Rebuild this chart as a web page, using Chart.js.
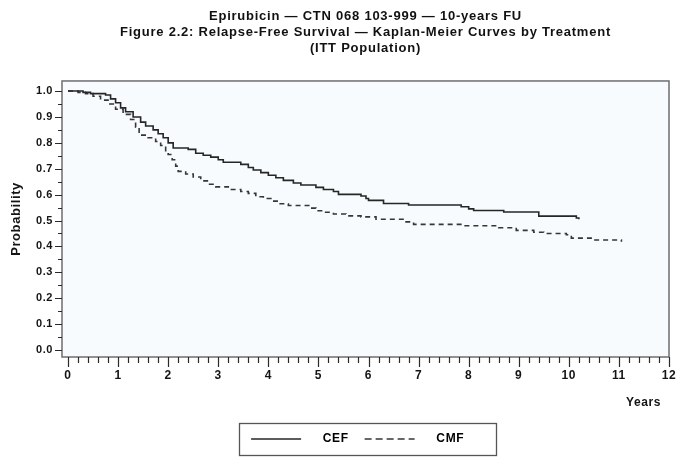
<!DOCTYPE html>
<html>
<head>
<meta charset="utf-8">
<script src="https://cdn.jsdelivr.net/npm/chart.js@4/dist/chart.umd.min.js"></script>
<style>
  html, body { margin: 0; padding: 0; background: #ffffff; }
  #wrap { width: 692px; height: 467px; }
</style>
</head>
<body>
<div id="wrap"><canvas id="c" width="692" height="467"></canvas></div>
<script>
// ---- Data ----
const titleLines = [
  "Epirubicin \u2014 CTN 068 103-999 \u2014 10-years FU",
  "Figure 2.2: Relapse-Free Survival \u2014 Kaplan-Meier Curves by Treatment",
  "(ITT Population)"
];
const seriesNames = ["CEF", "CMF"];

const cefYears = [0, 0.3, 0.45, 0.75, 0.85, 0.95, 1.05, 1.15, 1.3, 1.45, 1.55, 1.7, 1.8, 1.9, 2.0, 2.1,
  2.4, 2.55, 2.7, 2.85, 3.0, 3.1, 3.45, 3.6, 3.7, 3.85, 4.0, 4.15, 4.3, 4.5, 4.65, 4.95, 5.1, 5.3, 5.4,
  5.85, 5.95, 6.0, 6.3, 6.8, 7.85, 8.0, 8.1, 8.7, 9.4, 10.15, 10.2];
const cefSurv = [1.0, 0.995, 0.99, 0.985, 0.97, 0.955, 0.935, 0.92, 0.90, 0.88, 0.865, 0.85, 0.835, 0.82, 0.80, 0.78,
  0.775, 0.76, 0.752, 0.745, 0.735, 0.725, 0.717, 0.705, 0.695, 0.685, 0.675, 0.665, 0.655, 0.645, 0.637, 0.628, 0.62, 0.612, 0.601,
  0.595, 0.585, 0.578, 0.566, 0.56, 0.553, 0.545, 0.539, 0.533, 0.517, 0.51, 0.505];

const cmfYears = [0, 0.2, 0.35, 0.5, 0.65, 0.8, 0.95, 1.1, 1.25, 1.35, 1.42, 1.6, 1.75, 1.85, 1.95, 2.0, 2.08,
  2.15, 2.2, 2.35, 2.5, 2.65, 2.8, 2.95, 3.2, 3.45, 3.6, 3.75, 3.9, 4.05, 4.2, 4.4, 4.85, 4.95, 5.1, 5.3,
  5.55, 5.85, 6.15, 6.75, 6.9, 7.9, 8.6, 8.95, 9.3, 9.5, 9.95, 10.05, 10.5, 11.05];
const cmfSurv = [1.0, 0.995, 0.99, 0.98, 0.965, 0.95, 0.93, 0.91, 0.89, 0.86, 0.83, 0.82, 0.805, 0.79, 0.77, 0.755, 0.735,
  0.71, 0.69, 0.68, 0.668, 0.653, 0.64, 0.63, 0.62, 0.612, 0.605, 0.592, 0.585, 0.575, 0.565, 0.558, 0.548, 0.538, 0.532, 0.525,
  0.518, 0.514, 0.505, 0.495, 0.485, 0.48, 0.472, 0.462, 0.455, 0.45, 0.445, 0.432, 0.425, 0.418];

const xTickValues = [];
for (let i = 0; i <= 60; i++) xTickValues.push(Math.round(i * 2) / 10);     // 0 .. 12 every 0.2
const yTickValues = [];
for (let i = 0; i <= 20; i++) yTickValues.push(Math.round(i * 5) / 100);    // 0 .. 1 every 0.05
const xTickLabels = ["0","1","2","3","4","5","6","7","8","9","10","11","12"];
const yTickLabels = ["0.0","0.1","0.2","0.3","0.4","0.5","0.6","0.7","0.8","0.9","1.0"];

const toPoints = (xs, ys) => xs.map((x, i) => ({ x: x, y: ys[i] }));

const FONT = "'Liberation Sans', Arial, sans-serif";
Chart.defaults.font.family = FONT;
Chart.defaults.font.weight = 'bold';
Chart.defaults.color = '#141414';

const spacing = {
  id: 'spacing',
  beforeUpdate(chart) {
    chart.ctx.letterSpacing = '0.6px';
    const tb = chart.titleBlock;
    if (tb && !tb._wrapped) {
      const orig = tb.draw;
      tb.draw = function () {
        const ctx = chart.ctx;
        const prev = ctx.letterSpacing;
        ctx.letterSpacing = '0.76px';
        orig.apply(this, arguments);
        ctx.letterSpacing = prev;
      };
      tb._wrapped = true;
    }
  },
  beforeDraw(chart) { chart.ctx.letterSpacing = '0.6px'; }
};

const frame = {
  id: 'frame',
  beforeDraw(chart) {
    const { ctx, chartArea: a } = chart;
    ctx.save();
    ctx.fillStyle = '#f7fbfd';
    ctx.fillRect(a.left, a.top, a.right - a.left, a.bottom - a.top);
    ctx.restore();
  },
  afterDraw(chart) {
    const { ctx, chartArea: a } = chart;
    const xs = chart.scales.x, ys = chart.scales.y;
    ctx.save();
    ctx.strokeStyle = '#6e6e6e';
    ctx.lineWidth = 1.5;
    ctx.strokeRect(a.left, a.top, a.right - a.left, a.bottom - a.top);
    ctx.strokeStyle = '#2a2a2a';
    ctx.lineWidth = 1.2;
    ctx.beginPath();
    xTickValues.forEach(v => {
      const px = Math.round(xs.getPixelForValue(v)) + 0.5;
      const major = Math.abs(v - Math.round(v)) < 1e-6;
      ctx.moveTo(px, a.bottom);
      ctx.lineTo(px, a.bottom + (major ? 10 : 6));
    });
    yTickValues.forEach(v => {
      const py = Math.round(ys.getPixelForValue(v)) + 0.5;
      const major = Math.abs(v * 10 - Math.round(v * 10)) < 1e-6;
      ctx.moveTo(a.left - (major ? 7 : 4), py);
      ctx.lineTo(a.left, py);
    });
    ctx.stroke();
    // legend frame
    const lg = chart.legend;
    if (lg && lg.legendHitBoxes && lg.legendHitBoxes.length) {
      const hb = lg.legendHitBoxes;
      const l = hb[0].left - 12;
      const cy = hb[0].top + hb[0].height / 2;
      ctx.strokeStyle = '#555';
      ctx.lineWidth = 1.3;
      ctx.strokeRect(Math.round(l) + 0.5, Math.round(cy - 16) + 0.5, 257, 32);
    }
    ctx.restore();
  }
};

new Chart(document.getElementById('c'), {
  type: 'line',
  data: {
    datasets: [
      {
        label: seriesNames[0],
        data: toPoints(cefYears, cefSurv),
        borderColor: '#262626',
        borderWidth: 1.6,
        stepped: true,
        pointRadius: 0,
        fill: false
      },
      {
        label: seriesNames[1],
        data: toPoints(cmfYears, cmfSurv),
        borderColor: '#363636',
        borderWidth: 1.6,
        borderDash: [5, 4],
        stepped: true,
        pointRadius: 0,
        fill: false
      }
    ]
  },
  options: {
    responsive: false,
    devicePixelRatio: 1,
    animation: false,
    layout: { padding: { left: 0, right: 23, top: 0, bottom: 12 } },
    scales: {
      x: {
        type: 'linear',
        min: -0.12,
        max: 12,
        afterBuildTicks(scale) { scale.ticks = xTickValues.map(v => ({ value: v })); },
        afterFit(scale) { scale.height = 60; },
        grid: { display: false, drawTicks: false },
        border: { display: false },
        ticks: {
          autoSkip: false,
          maxRotation: 0,
          padding: 11,
          font: { size: 12, weight: 'bold' },
          color: '#141414',
          callback(v) {
            const k = Math.round(v);
            return Math.abs(v - k) < 1e-6 ? xTickLabels[k] : '';
          }
        },
        title: {
          display: true,
          text: 'Years  ',
          align: 'end',
          font: { size: 12, weight: 'bold' },
          color: '#141414',
          padding: { top: 0, bottom: 7 }
        }
      },
      y: {
        type: 'linear',
        min: -0.027,
        max: 1.039,
        afterBuildTicks(scale) { scale.ticks = yTickValues.map(v => ({ value: v })); },
        afterFit(scale) { scale.width = 62; },
        grid: { display: false, drawTicks: false },
        border: { display: false },
        ticks: {
          autoSkip: false,
          padding: 9,
          font: { size: 11, weight: 'bold' },
          color: '#141414',
          callback(v) {
            const k = Math.round(v * 10);
            return Math.abs(v * 10 - k) < 1e-6 ? yTickLabels[k] : '';
          }
        },
        title: {
          display: true,
          text: 'Probability',
          font: { size: 13, weight: 'bold' },
          color: '#141414',
          padding: { top: 9, bottom: 0 }
        }
      }
    },
    plugins: {
      title: {
        display: true,
        text: titleLines,
        fullSize: false,
        font: { size: 13, weight: 'bold', lineHeight: 1.23 },
        color: '#111',
        padding: { top: 8, bottom: 25 }
      },
      legend: {
        display: true,
        position: 'bottom',
        fullSize: false,
        labels: {
          usePointStyle: true,
          pointStyle: 'line',
          pointStyleWidth: 50,
          padding: 16,
          color: '#141414',
          font: { size: 12, weight: 'bold' },
          generateLabels(chart) {
            return chart.data.datasets.map((ds, i) => ({
              text: i === 0 ? '    ' + ds.label : '    ' + ds.label + '    ',
              strokeStyle: ds.borderColor,
              fillStyle: ds.borderColor,
              lineWidth: 1.6,
              lineDash: ds.borderDash ? [7, 4] : [],
              pointStyle: 'line',
              datasetIndex: i,
              hidden: false
            }));
          }
        }
      },
      tooltip: { enabled: false }
    }
  },
  plugins: [spacing, frame]
});
</script>
</body>
</html>
